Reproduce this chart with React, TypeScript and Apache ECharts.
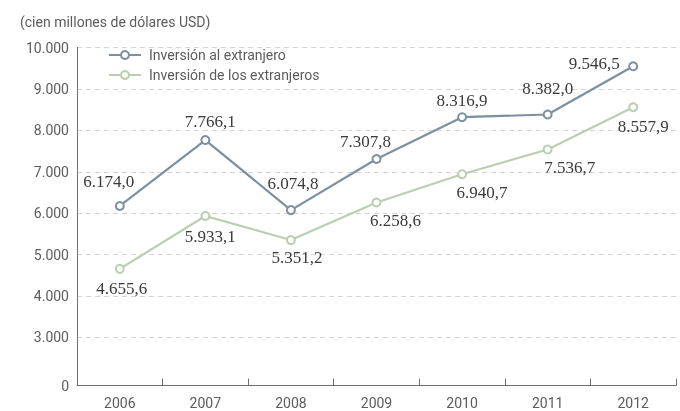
import React, { useEffect, useRef } from "react";
import * as echarts from "echarts";

const years = ["2006", "2007", "2008", "2009", "2010", "2011", "2012"];
const outward = [6174.0, 7766.1, 6074.8, 7307.8, 8316.9, 8382.0, 9546.5];
const inward = [4655.6, 5933.1, 5351.2, 6258.6, 6940.7, 7536.7, 8557.9];
const seriesNames = ["Inversión al extranjero", "Inversión de los extranjeros"];
const unitTitle = "(cien millones de dólares USD)";
// broken axis: the "0" tick sits just below 3.000
const yTicks = [1840, 3000, 4000, 5000, 6000, 7000, 8000, 9000, 10000];

const outwardOffsets: [number, number][] = [[-11, -24], [5, -19], [2, -27], [-11, -18], [0, -17], [0, -26], [-39, -3]];
const inwardOffsets: [number, number][] = [[2, 20], [5, 21], [6, 17], [19, 18], [20, 18], [22, 18], [10, 19]];

const thousands = (s: string) => s.replace(/\B(?=(\d{3})+(?!\d))/g, ".");
const fmt1 = (v: number) => {
  const [i, d] = v.toFixed(1).split(".");
  return thousands(i) + "," + d;
};
const fmtAxis = (v: number) => (v < 2000 ? "0" : thousands(String(Math.round(v))));

const C1 = "#7d90a2";
const C2 = "#bccdb1";
const TXT = "#5c5c5c";

export default function App() {
  const ref = useRef<HTMLDivElement>(null);
  useEffect(() => {
    if (!ref.current) return;
    const chart = echarts.init(ref.current, undefined, { renderer: "svg" });
    const mkData = (vals: number[], offs: [number, number][]) =>
      vals.map((v, i) => ({
        value: v,
        label: { offset: offs[i] },
      }));
    const labelBase = {
      show: true,
      position: ["50%", "50%"],
      align: "center",
      verticalAlign: "middle",
      fontFamily: "'Liberation Serif', 'Times New Roman', serif",
      fontSize: 17,
      color: "#3a3a3a",
      formatter: (p: any) => fmt1(p.value),
    };
    chart.setOption({
      animation: false,
      title: {
        text: unitTitle,
        left: 15,
        top: 10,
        textStyle: { fontFamily: "Roboto", fontSize: 14, fontWeight: "normal", color: TXT },
      },
      legend: {
        orient: "vertical",
        left: 103,
        top: 43,
        itemWidth: 32,
        itemHeight: 10,
        itemGap: 6,
        textStyle: { fontFamily: "Roboto", fontSize: 14, color: TXT, padding: [0, 0, 0, 3] },
        data: seriesNames,
      },
      grid: { left: 77, right: 4, top: 47.5, bottom: 25.5, containLabel: false },
      xAxis: {
        type: "category",
        data: years,
        boundaryGap: true,
        axisLine: { lineStyle: { color: "#6f6f6f", width: 1 } },
        axisTick: { show: true, inside: true, length: 7, lineStyle: { color: "#6f6f6f" } },
        axisLabel: { fontFamily: "Roboto", fontSize: 14, color: TXT, margin: 10 },
      },
      yAxis: {
        type: "value",
        min: 1840,
        max: 10000,
        axisLine: { show: true, lineStyle: { color: "#6f6f6f", width: 1 } },
        axisTick: { show: false, customValues: yTicks },
        axisLabel: {
          customValues: yTicks,
          formatter: (v: number) => fmtAxis(v),
          fontFamily: "Roboto",
          fontSize: 14,
          color: TXT,
          margin: 8,
        },
        splitLine: { show: true, lineStyle: { color: "#d6d6d6", type: [5, 4], width: 1 } },
      },
      series: [
        {
          name: seriesNames[0],
          type: "line",
          data: mkData(outward, outwardOffsets),
          symbol: "emptyCircle",
          symbolSize: 8,
          lineStyle: { color: C1, width: 2.2 },
          itemStyle: { color: C1, borderColor: C1, borderWidth: 2.2 },
          label: labelBase,
          z: 3,
        },
        {
          name: seriesNames[1],
          type: "line",
          data: mkData(inward, inwardOffsets),
          symbol: "emptyCircle",
          symbolSize: 8,
          lineStyle: { color: C2, width: 2.2 },
          itemStyle: { color: C2, borderColor: C2, borderWidth: 2.2 },
          label: labelBase,
          z: 2,
        },
      ],
    });
    return () => chart.dispose();
  }, []);
  return (
    <div
      ref={ref}
      style={{ position: "fixed", left: 0, top: 0, width: 680, height: 411 }}
    />
  );
}
